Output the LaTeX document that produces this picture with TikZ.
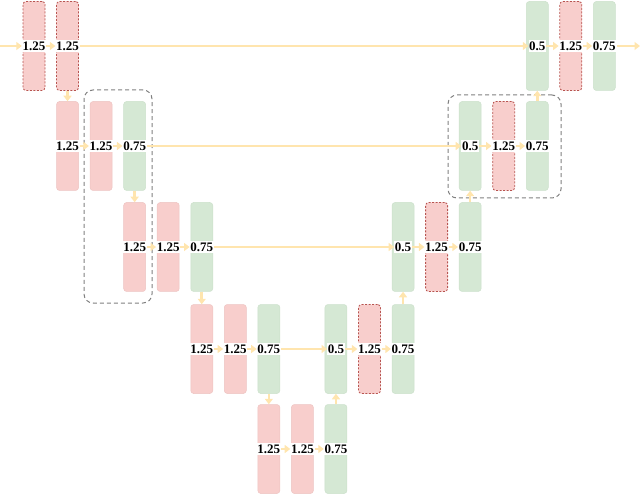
\documentclass[tikz,border=0pt]{standalone}
\usepackage{fontspec}
\setmainfont{Liberation Serif}
\usetikzlibrary{arrows.meta}
\definecolor{pinkf}{HTML}{F8CECC}
\definecolor{pinkd}{HTML}{B85450}
\definecolor{pinke}{HTML}{EDC4C2}
\definecolor{greenf}{HTML}{D5E8D4}
\definecolor{greene}{HTML}{CCE0CB}
\definecolor{arrc}{HTML}{FFE5AE}
\tikzset{
  blk/.style={minimum width=22pt,minimum height=89pt,inner sep=0pt,rounded corners=3pt,line width=0.5pt},
  redblk/.style={blk,fill=pinkf,draw=pinke},
  reddash/.style={blk,fill=pinkf,draw=pinkd,dashed,line width=0.8pt,dash pattern=on 2pt off 1.5pt},
  grnblk/.style={blk,fill=greenf,draw=greene},
  lbl/.style={fill=white,inner xsep=0.6pt,inner ysep=2pt,font=\fontsize{13}{13}\selectfont\bfseries},
  arr/.style={draw=arrc,line width=2.6pt,-{Triangle[length=5.5pt,width=8pt]}},
  skip/.style={draw=arrc,line width=2.2pt,-{Triangle[length=5.5pt,width=8pt]}},
  grp/.style={draw=gray,dashed,line width=1pt,rounded corners=9pt,dash pattern=on 4pt off 3pt},
}
\begin{document}
\begin{tikzpicture}[x=1pt,y=1pt]
\useasboundingbox (0,0) rectangle (640,496);
\def\cs{33.55}
% Level 0 (y=450)
\node[reddash] (b0c0) at (34+0*\cs,450) {};
\node[reddash] (b0c1) at (34+1*\cs,450) {};
\node[grnblk]  (b0c15) at (34+15*\cs,450) {};
\node[reddash] (b0c16) at (34+16*\cs,450) {};
\node[grnblk]  (b0c17) at (34+17*\cs,450) {};
% Level 1 (y=350)
\node[redblk] (b1c1) at (34+1*\cs,350) {};
\node[redblk] (b1c2) at (34+2*\cs,350) {};
\node[grnblk] (b1c3) at (34+3*\cs,350) {};
\node[grnblk] (b1c13) at (34+13*\cs,350) {};
\node[reddash] (b1c14) at (34+14*\cs,350) {};
\node[grnblk] (b1c15) at (34+15*\cs,350) {};
% Level 2 (y=249)
\node[redblk] (b2c3) at (34+3*\cs,249) {};
\node[redblk] (b2c4) at (34+4*\cs,249) {};
\node[grnblk] (b2c5) at (34+5*\cs,249) {};
\node[grnblk] (b2c11) at (34+11*\cs,249) {};
\node[reddash] (b2c12) at (34+12*\cs,249) {};
\node[grnblk] (b2c13) at (34+13*\cs,249) {};
% Level 3 (y=147)
\node[redblk] (b3c5) at (34+5*\cs,147) {};
\node[redblk] (b3c6) at (34+6*\cs,147) {};
\node[grnblk] (b3c7) at (34+7*\cs,147) {};
\node[grnblk] (b3c9) at (34+9*\cs,147) {};
\node[reddash] (b3c10) at (34+10*\cs,147) {};
\node[grnblk] (b3c11) at (34+11*\cs,147) {};
% Level 4 (y=47)
\node[redblk] (b4c7) at (34+7*\cs,47) {};
\node[redblk] (b4c8) at (34+8*\cs,47) {};
\node[grnblk] (b4c9) at (34+9*\cs,47) {};
% group boxes
\node[grp,minimum width=68pt,minimum height=213pt,inner sep=0pt] (g1) at (118,299.5) {};
\node[grp,minimum width=113pt,minimum height=103pt,inner sep=0pt] (g2) at (504.5,349.5) {};
% labels
\node[lbl] (l0c0) at (b0c0) {1.25};
\node[lbl] (l0c1) at (b0c1) {1.25};
\node[lbl] (l0c15) at (b0c15) {0.5};
\node[lbl] (l0c16) at (b0c16) {1.25};
\node[lbl] (l0c17) at (b0c17) {0.75};
\node[lbl] (l1c1) at (b1c1) {1.25};
\node[lbl] (l1c2) at (b1c2) {1.25};
\node[lbl] (l1c3) at (b1c3) {0.75};
\node[lbl] (l1c13) at (b1c13) {0.5};
\node[lbl] (l1c14) at (b1c14) {1.25};
\node[lbl] (l1c15) at (b1c15) {0.75};
\node[lbl] (l2c3) at (b2c3) {1.25};
\node[lbl] (l2c4) at (b2c4) {1.25};
\node[lbl] (l2c5) at (b2c5) {0.75};
\node[lbl] (l2c11) at (b2c11) {0.5};
\node[lbl] (l2c12) at (b2c12) {1.25};
\node[lbl] (l2c13) at (b2c13) {0.75};
\node[lbl] (l3c5) at (b3c5) {1.25};
\node[lbl] (l3c6) at (b3c6) {1.25};
\node[lbl] (l3c7) at (b3c7) {0.75};
\node[lbl] (l3c9) at (b3c9) {0.5};
\node[lbl] (l3c10) at (b3c10) {1.25};
\node[lbl] (l3c11) at (b3c11) {0.75};
\node[lbl] (l4c7) at (b4c7) {1.25};
\node[lbl] (l4c8) at (b4c8) {1.25};
\node[lbl] (l4c9) at (b4c9) {0.75};
% in/out
\coordinate (in) at (0,450);
\coordinate (out) at (640,450);
\draw[arr] (in) -- (l0c0);
\draw[arr] (l0c0) -- (l0c1);
\draw[arr] (l0c15) -- (l0c16);
\draw[arr] (l0c16) -- (l0c17);
\draw[arr] (l0c17) -- (out);
\draw[arr] (l1c1) -- (l1c2);
\draw[arr] (l1c2) -- (l1c3);
\draw[arr] (l1c13) -- (l1c14);
\draw[arr] (l1c14) -- (l1c15);
\draw[arr] (l2c3) -- (l2c4);
\draw[arr] (l2c4) -- (l2c5);
\draw[arr] (l2c11) -- (l2c12);
\draw[arr] (l2c12) -- (l2c13);
\draw[arr] (l3c5) -- (l3c6);
\draw[arr] (l3c6) -- (l3c7);
\draw[arr] (l3c9) -- (l3c10);
\draw[arr] (l3c10) -- (l3c11);
\draw[arr] (l4c7) -- (l4c8);
\draw[arr] (l4c8) -- (l4c9);
% vertical
\draw[arr] (b0c1.south) -- (b1c1.north);
\draw[arr] (b1c3.south) -- (b2c3.north);
\draw[arr] (b2c5.south) -- (b3c5.north);
\draw[arr] (b3c7.south) -- (b4c7.north);
\draw[arr] (b4c9.north) -- (b3c9.south);
\draw[arr] (b3c11.north) -- (b2c11.south);
\draw[arr] (b2c13.north) -- (b1c13.south);
\draw[arr] (b1c15.north) -- (b0c15.south);
% skips
\draw[skip] (l0c1) -- (l0c15);
\draw[skip] (l1c3) -- (l1c13);
\draw[skip] (l2c5) -- (l2c11);
\draw[skip] (l3c7) -- (l3c9);
\end{tikzpicture}
\end{document}
